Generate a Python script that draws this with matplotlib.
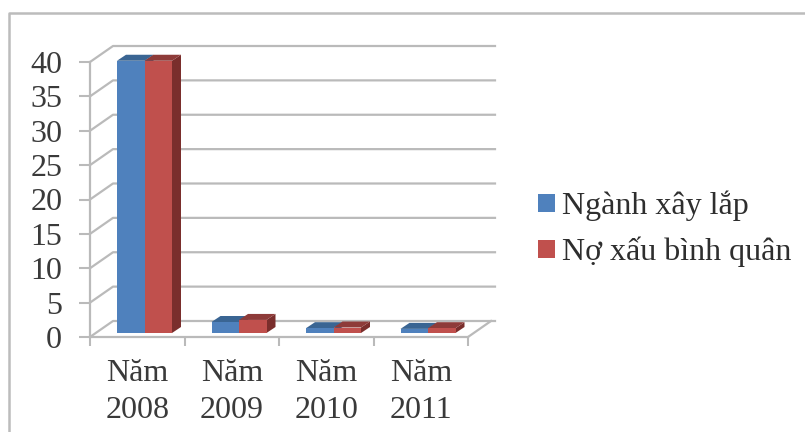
import matplotlib
matplotlib.use("Agg")
import matplotlib.pyplot as plt
from matplotlib.lines import Line2D
from matplotlib.patches import Patch, Polygon, Rectangle

plt.rcParams['font.family'] = ['Liberation Serif', 'DejaVu Serif']

categories = ['Năm\n2008', 'Năm\n2009', 'Năm\n2010', 'Năm\n2011']
nganh_xay_lap = [39.6, 1.6, 0.7, 0.6]
no_xau_binh_quan = [39.6, 1.9, 0.8, 0.7]
series_names = ['Ngành xây lắp', 'Nợ xấu bình quân']
y_ticks = [0, 5, 10, 15, 20, 25, 30, 35, 40]

W, H = 805, 432
GREY = '#bababa'
TEXT = '#3a3a3a'

# pixel scale of the axes box, used to express the fake 3D offsets
PX_X = 94.5
PX_Y = 6.875
WALL_DX, WALL_DY = 23 / PX_X, 16 / PX_Y
BAR_DX, BAR_DY = 9 / PX_X, 6 / PX_Y
BAR_LIFT = 4 / PX_Y
BAR_START, BAR_W = 27 / PX_X, 27.5 / PX_X


def draw_bar(ax, x, value, front, top, side):
    base = BAR_LIFT
    y = base + value
    ax.add_patch(Polygon([(x + BAR_W, base), (x + BAR_W + BAR_DX, base + BAR_DY),
                          (x + BAR_W + BAR_DX, y + BAR_DY), (x + BAR_W, y)],
                         facecolor=side, edgecolor='none', clip_on=False, zorder=3))
    ax.add_patch(Polygon([(x, y), (x + BAR_DX, y + BAR_DY),
                          (x + BAR_W + BAR_DX, y + BAR_DY), (x + BAR_W, y)],
                         facecolor=top, edgecolor='none', clip_on=False, zorder=3))
    ax.add_patch(Rectangle((x, base), BAR_W, value, facecolor=front,
                           edgecolor='none', clip_on=False, zorder=4))


fig = plt.figure(figsize=(W / 100, H / 100), dpi=100, facecolor='white')
ax = fig.add_axes([90 / W, (H - 337) / H, 378 / W, 275 / H])
ax.set_xlim(0, 4)
ax.set_ylim(0, 40)
ax.patch.set_visible(False)

for name in ['top', 'right']:
    ax.spines[name].set_visible(False)
for name in ['left', 'bottom']:
    ax.spines[name].set_color(GREY)
    ax.spines[name].set_linewidth(1.6)

ax.set_yticks(y_ticks)
ax.set_xticks(range(5))
ax.set_xticklabels([])
ax.set_xticks([i + 0.5 for i in range(4)], categories, minor=True)
ax.tick_params(axis='y', length=8, width=1.5, color=GREY, labelsize=23,
               labelcolor=TEXT, pad=12)
ax.tick_params(axis='x', which='major', length=6.5, width=1.5, color=GREY)
ax.tick_params(axis='x', which='minor', length=0, labelsize=23,
               labelcolor=TEXT, pad=16)
for label in ax.get_xticklabels(minor=True):
    label.set_linespacing(1.35)

# back wall gridlines and the slanted lines running from the front axis
for v in y_ticks:
    ax.add_line(Line2D([0, WALL_DX, 4 + 27 / PX_X], [v, v + WALL_DY, v + WALL_DY],
                       color=GREY, lw=1.6, clip_on=False, zorder=1))
ax.add_line(Line2D([4, 4 + WALL_DX], [0, WALL_DY], color=GREY, lw=1.6,
                   clip_on=False, zorder=1))

for i in range(len(categories)):
    x = i + BAR_START
    draw_bar(ax, x, nganh_xay_lap[i], '#4f81bd', '#3a6593', '#3a6593')
    draw_bar(ax, x + BAR_W, no_xau_binh_quan[i], '#c0504d', '#8e3b39', '#7a2e2c')

handles = [Patch(facecolor='#4f81bd', label=series_names[0]),
           Patch(facecolor='#c0504d', label=series_names[1])]
fig.legend(handles=handles, loc='center left', bbox_to_anchor=(538 / W, 1 - 229 / H),
           frameon=False, fontsize=23, labelcolor='#2e2e2e', handlelength=0.53,
           handleheight=0.47, handletextpad=0.22, labelspacing=0.49,
           borderpad=0, borderaxespad=0)

# outer chart frame, open towards the bottom of the image
fig.add_artist(Line2D([8.5 / W, 8.5 / W, 1], [0, 1 - 13 / H, 1 - 13 / H],
                      color='#bcbcbc', lw=1.8, transform=fig.transFigure))

fig.savefig('out.png', dpi=100, facecolor='white')
plt.close(fig)
